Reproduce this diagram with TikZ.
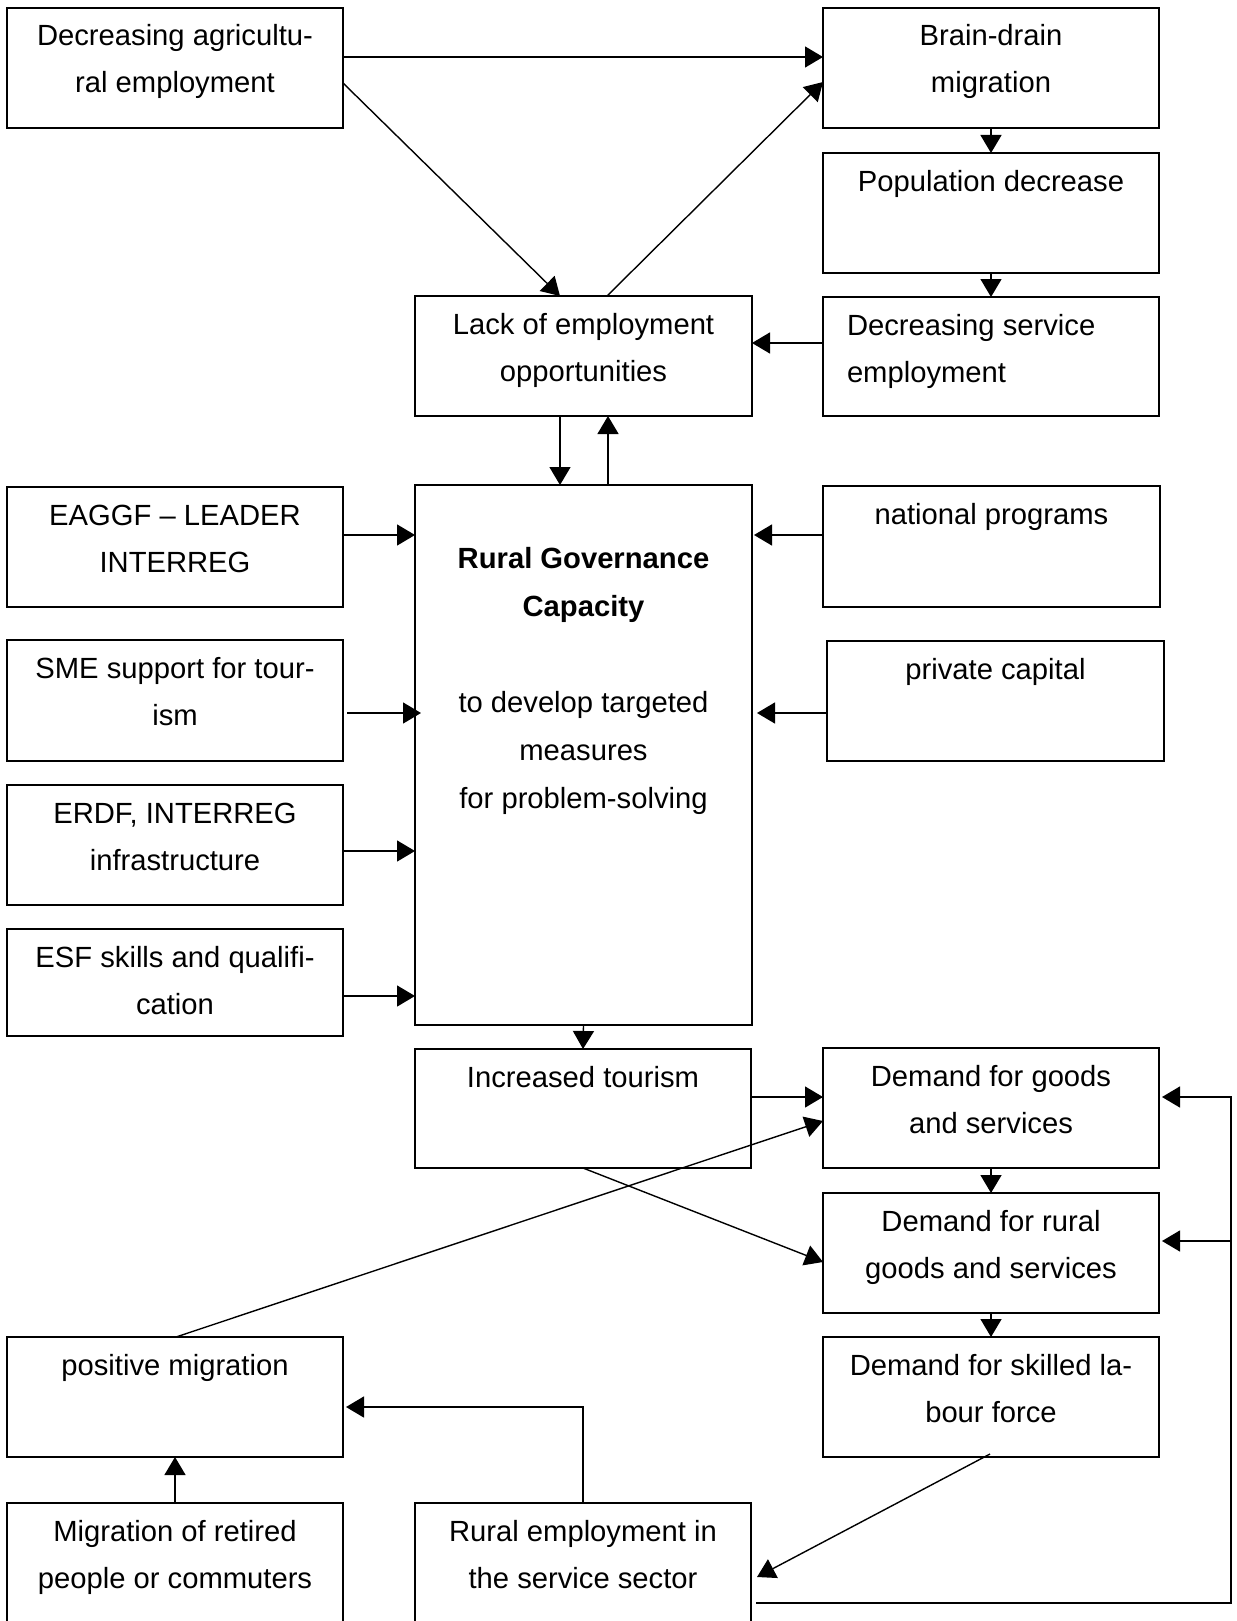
\documentclass[tikz,border=0pt]{standalone}
\usepackage{fontspec}
\setmainfont{Liberation Sans}
\usetikzlibrary{arrows.meta,calc}

% box with top-aligned text: name, x1, y1, x2, y2 (pixel grid), text
\newcommand\bx[6]{%
  \node[box] (#1) at ({(#2+#4)/2},{(#3+#5)/2})
    {\parbox[c][\dimexpr #5pt/2-#3pt/2\relax][t]{\dimexpr #4pt/2-#2pt/2\relax}%
      {\centering\rule{0pt}{19pt}#6\par}};}

\tikzset{
  box/.style={draw, line width=1pt, inner sep=0pt, outer sep=0pt,
    font=\fontsize{14.6pt}{23.5pt}\selectfont},
  link/.style={line width=0.7pt},
  arr/.style={link, -{Triangle[length=9pt,width=10.5pt]}},
}

\begin{document}
\begin{tikzpicture}[x=0.5pt,y=-0.5pt]
\useasboundingbox (0,0) rectangle (1236,1621);
\clip (0,0) rectangle (1236,1621);
\fill[white] (0,0) rectangle (1236,1621);

% top row and right column
\bx{agri}{7}{8}{343}{128}{Decreasing agricultu-\\ral employment}
\bx{brain}{823}{8}{1159}{128}{Brain-drain\\migration}
\bx{pop}{823}{153}{1159}{273}{Population decrease}
\bx{decserv}{823}{297}{1159}{416}{\raggedright\leftskip=12pt Decreasing service\\employment}
\bx{lack}{415}{296}{752}{416}{Lack of employment\\opportunities}

% central box
\node[box] (rgc) at (583.5,755)
  {\parbox[c][270pt][t]{168.5pt}{\centering\baselineskip=24pt
   \rule{0pt}{41.5pt}\textbf{Rural Governance}\\\textbf{Capacity}\\~\\
   to develop targeted\\measures\\for problem-solving\par}};

% funding sources
\bx{eaggf}{7}{487}{343}{607}{EAGGF – LEADER\\INTERREG}
\bx{sme}{7}{640}{343}{761}{SME support for tour-\\ism}
\bx{erdf}{7}{785}{343}{905}{ERDF, INTERREG\\infrastructure}
\bx{esf}{7}{929}{343}{1036}{ESF skills and qualifi-\\cation}
\bx{natl}{823}{486}{1160}{607}{national programs}
\bx{priv}{827}{641}{1164}{761}{private capital}

% lower part
\bx{tour}{415}{1049}{751}{1168}{Increased tourism}
\bx{goods}{823}{1048}{1159}{1168}{Demand for goods\\and services}
\bx{rural}{823}{1193}{1159}{1313}{Demand for rural\\goods and services}
\bx{skill}{823}{1337}{1159}{1457}{Demand for skilled la-\\bour force}
\bx{posmig}{7}{1337}{343}{1457}{positive migration}
\bx{retired}{7}{1503}{343}{1630}{\rule{0pt}{16pt}Migration of retired\\people or commuters}
\bx{ruremp}{415}{1503}{751}{1630}{\rule{0pt}{16pt}Rural employment in\\the service sector}

% upper loop
\draw[arr] ($(agri.east)+(0,-11)$) -- ($(brain.west)+(0,-11)$);
\draw[arr] ($(agri.east)+(0,15)$) -- ($(lack.north)+(-23.5,0)$);
\draw[arr] ($(lack.north)+(23.5,0)$) -- ($(brain.west)+(0,14)$);
\draw[arr] (brain.south) -- (pop.north);
\draw[arr] (pop.south) -- (decserv.north);
\draw[arr] ($(decserv.west)+(0,-13.5)$) -- ($(lack.east)+(0,-13)$);
\draw[arr] ($(lack.south)+(-23.5,0)$) -- ($(rgc.north)+(-23.5,0)$);
\draw[arr] ($(rgc.north)+(24.5,0)$) -- ($(lack.south)+(24.5,0)$);

% inputs into the central box
\draw[arr] (eaggf.east) ++(0,-12) coordinate (e1) -- (e1 -| rgc.west);
\draw[arr] ($(sme.east)+(4,12.5)$) coordinate (e2) -- ($(e2 -| rgc.west)+(6,0)$);
\draw[arr] (erdf.east) ++(0,6) coordinate (e3) -- (e3 -| rgc.west);
\draw[arr] (esf.east) ++(0,13.5) coordinate (e4) -- (e4 -| rgc.west);
\draw[arr] (natl.west) ++(0,-11.5) coordinate (e5) -- ($(e5 -| rgc.east)+(2,0)$);
\draw[arr] (priv.west) ++(0,12) coordinate (e6) -- ($(e6 -| rgc.east)+(5,0)$);

% lower loop
\draw[arr] (rgc.south) -- (tour.north);
\draw[arr] ($(tour.east)+(0,-11.5)$) -- ($(goods.west)+(0,-11)$);
\draw[arr] ($(posmig.north)+(1,0)$) -- ($(goods.west)+(0,13)$);
\draw[arr] (tour.south) -- ($(rural.west)+(0,9)$);
\draw[arr] (goods.south) -- (rural.north);
\draw[arr] (rural.south) -- (skill.north);
\draw[arr] ($(skill.south)+(-1,-3)$) -- ($(ruremp.east)+(6,10.5)$);
\draw[arr] (retired.north) -- (posmig.south);
\draw[arr] (ruremp.north) |- ($(posmig.east)+(3,10)$);

\path ($(goods.east)+(3,-11)$) coordinate (gin)
      ($(rural.east)+(3,-12)$) coordinate (rin);
\draw[arr] ($(ruremp.east)+(5,36.5)$) -- ++(475,0) coordinate (bus)
  -- (bus |- gin) -- (gin);
\draw[arr] (bus |- rin) -- (rin);
\end{tikzpicture}
\end{document}
